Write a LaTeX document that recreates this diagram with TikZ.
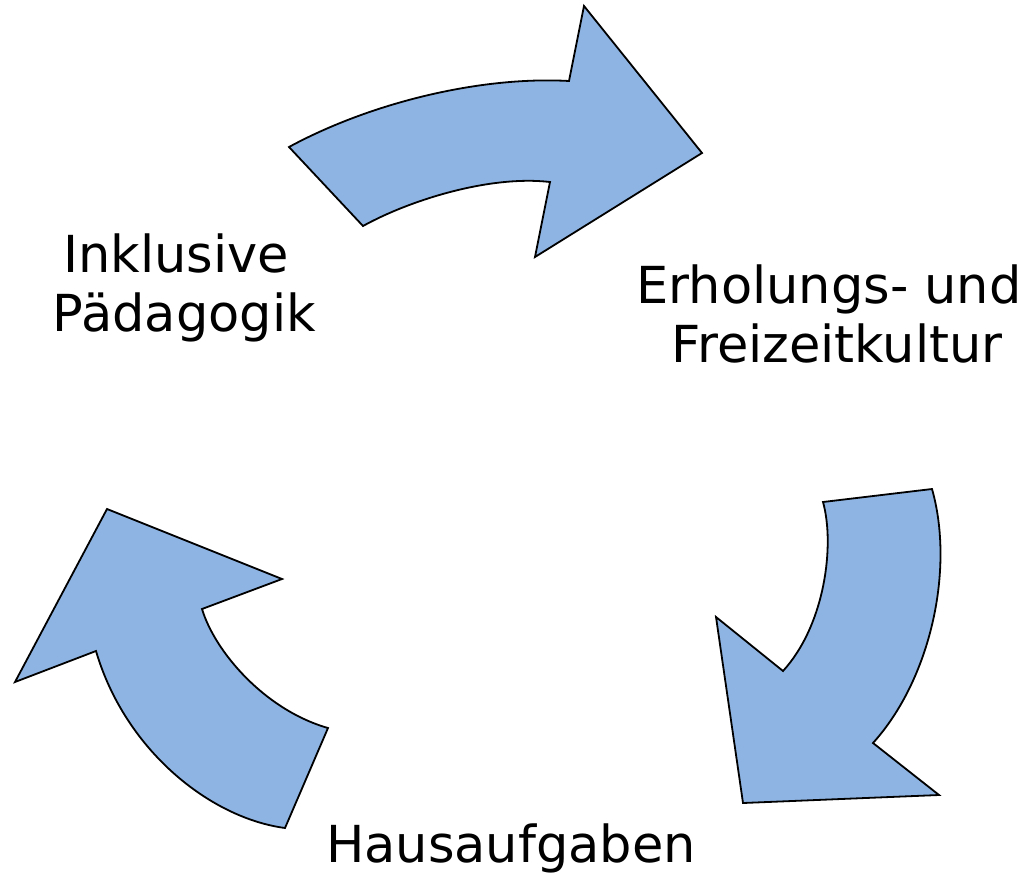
\documentclass[tikz,border=0pt]{standalone}
\usepackage{fontspec}
\setmainfont{DejaVu Sans}
\usepackage{tikz}
\usetikzlibrary{positioning}

\definecolor{pfeilblau}{HTML}{8EB4E3}
\tikzset{pfeil/.style={fill=pfeilblau, draw=black, line width=1.8pt, line join=miter},
  etikett/.style={font=\fontsize{51}{59}\selectfont, align=center, inner sep=0pt, anchor=base}}

\begin{document}
\begin{tikzpicture}[x=1pt,y=-1pt]

 \useasboundingbox (0,0) rectangle (1024,875); % Rahmen wie im Original

 % oberer Pfeil (nach rechts)
 \draw[pfeil] (289,147) .. controls (370,103) and (480,76) .. (569,81)
   -- (584,6) -- (702,153) -- (535,257) -- (550,182)
   .. controls (490,175) and (410,200) .. (363,226) -- cycle;

 % rechter Pfeil (nach unten)
 \draw[pfeil] (932,489) -- (823,502)
   .. controls (835,545) and (825,625) .. (783,671)
   -- (716,617) -- (743,803) -- (939,795) -- (873,743)
   .. controls (930,680) and (955,570) .. (932,489) -- cycle;

 % linker Pfeil (nach oben)
 \draw[pfeil] (107,509) -- (282,579) -- (202,609)
   .. controls (215,652) and (265,710) .. (328,728)
   -- (285,828)
   .. controls (210,818) and (125,750) .. (96,651)
   -- (15,682) -- cycle;

 % base = Grundlinie der letzten Zeile
 \node[etikett] (inklusiv) at (176,331) {Inklusive\\\hspace*{0.32em}Pädagogik};
 \node[etikett] (erholung) at (829,362) {Erholungs- und\\\hspace*{0.32em}Freizeitkultur};
 \node[etikett] (hausaufg) at (511,862) {Hausaufgaben};

\end{tikzpicture}
\end{document}
